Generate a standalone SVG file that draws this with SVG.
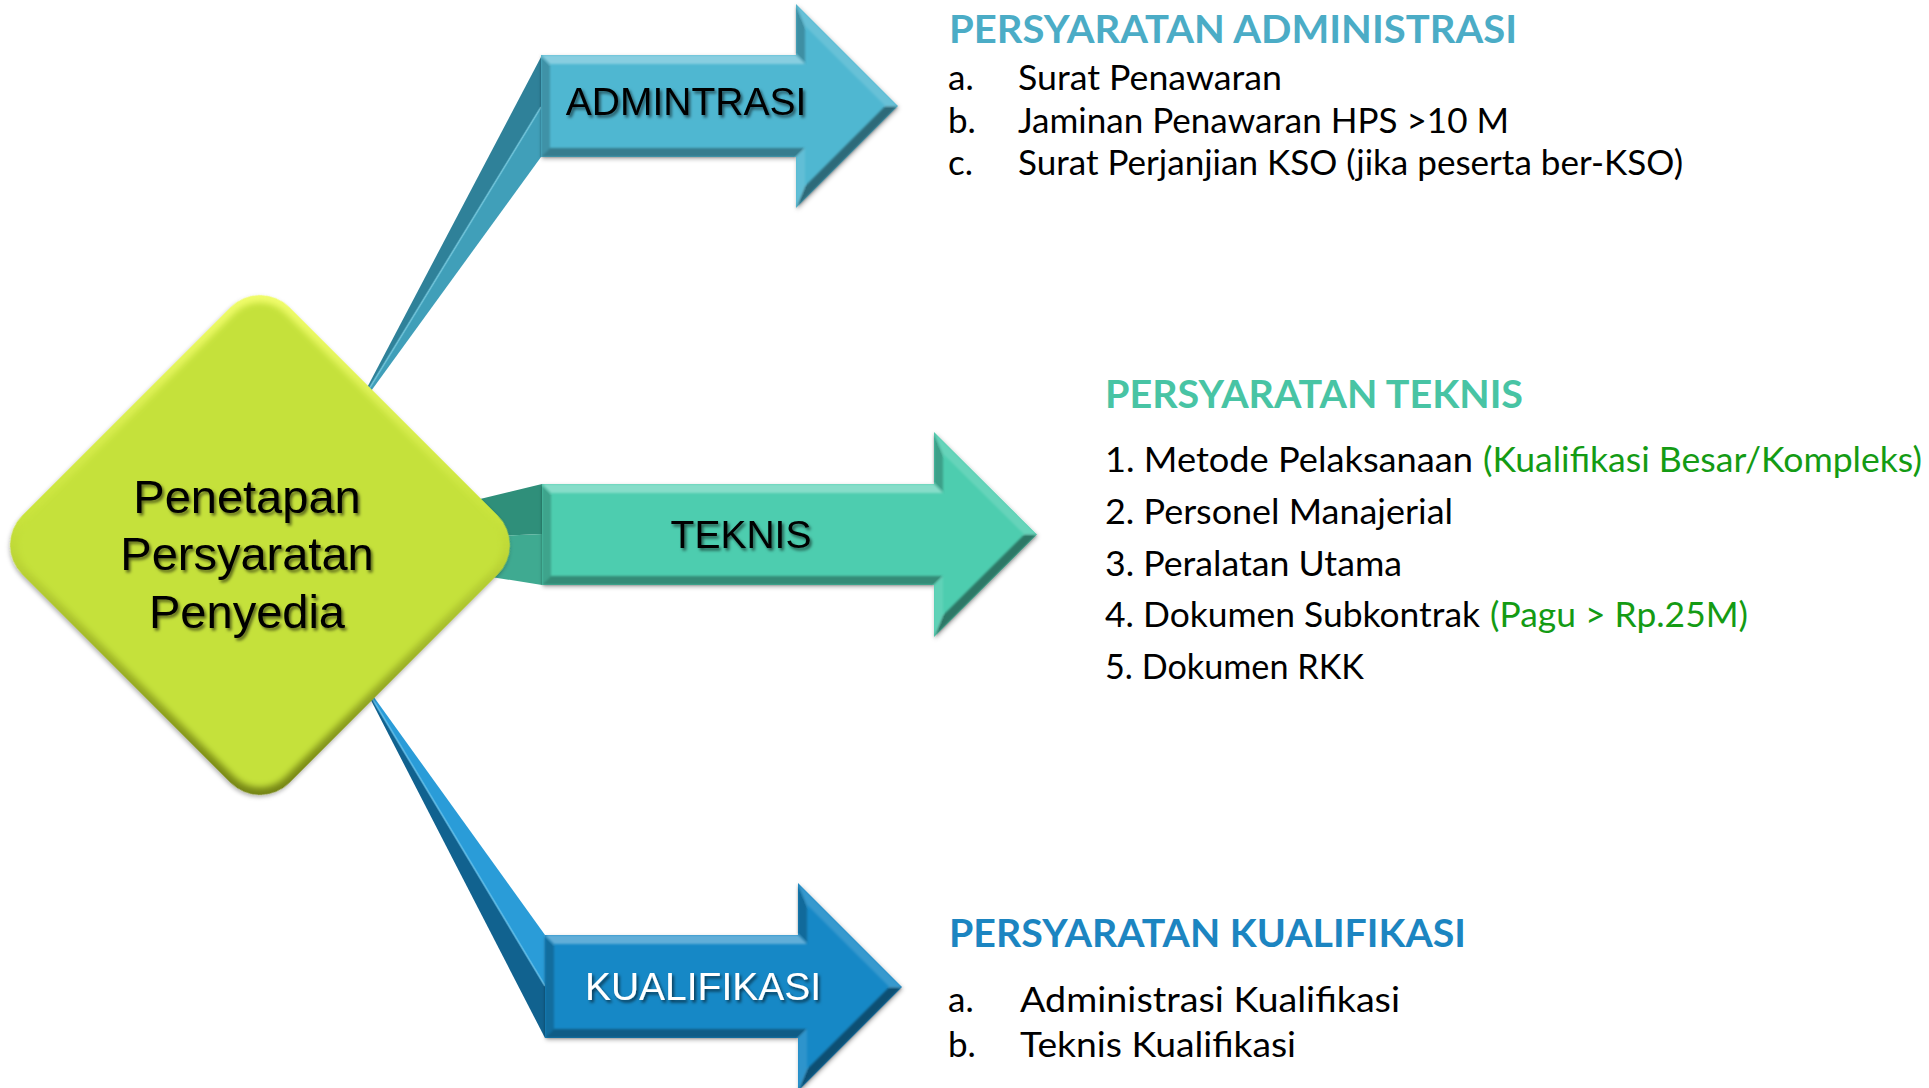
<svg xmlns="http://www.w3.org/2000/svg" width="1929" height="1088" viewBox="0 0 1929 1088">
<style>
.lbl{font-family:"Liberation Sans",Arial,sans-serif;font-size:39px;text-anchor:middle}
.dtx{font-family:"Liberation Sans",Arial,sans-serif;font-size:47px;text-anchor:middle;fill:#000}
.ttl{font-family:Lato,"Open Sans",sans-serif;font-weight:bold;font-size:39px}
.itm{font-family:Lato,"Open Sans",sans-serif;font-size:35px;fill:#000}
.grn{fill:#149B14}
.f-top{fill:#fff;fill-opacity:.32}
.f-htop{fill:#fff;fill-opacity:.14}
.f-btop{fill:#000;fill-opacity:.22}
.f-hbot{fill:#000;fill-opacity:.42}
.f-bbot{fill:#fff;fill-opacity:.1}
.f-bot{fill:#000;fill-opacity:.32}
.f-left{fill:#000;fill-opacity:.2}
</style>
<defs>
<filter id="tshadow" x="-10%" y="-20%" width="120%" height="150%">
<feDropShadow dx="2" dy="2.5" stdDeviation="1.5" flood-color="#000" flood-opacity=".55"/>
</filter>
<filter id="ashadow" x="-10%" y="-10%" width="120%" height="130%">
<feDropShadow dx="1" dy="2" stdDeviation="2" flood-color="#000" flood-opacity=".3"/>
</filter>
<filter id="soft"><feGaussianBlur stdDeviation="1"/></filter>
<filter id="soft3"><feGaussianBlur stdDeviation="3"/></filter>
<linearGradient id="dEdge" x1="0" y1="0" x2="1" y2="1">
<stop offset="0" stop-color="#F4FF70"/>
<stop offset=".45" stop-color="#C8E33C"/>
<stop offset="1" stop-color="#6F7E10"/>
</linearGradient>
</defs>

<g id="connectors">
<g id="conn-admin">
<polygon points="541,57 350,420 541,107" fill="#2F8199"/>
<polygon points="541,107 350,420 541,157" fill="#409FB9"/>
<line x1="541" y1="107" x2="350" y2="420" stroke="#7FD6EC" stroke-width="2" opacity=".5"/>
</g>
<g id="conn-teknis">
<polygon points="542,484 290,545 542,534" fill="#2F8F7A"/>
<polygon points="542,534 290,545 542,585" fill="#3FAA91"/>
</g>
<g id="conn-kualifikasi">
<polygon points="545,935 358,675 545,986" fill="#2A9CD8"/>
<polygon points="545,986 358,675 545,1038" fill="#11628F"/>
<line x1="545" y1="986" x2="358" y2="675" stroke="#6CCBF5" stroke-width="2" opacity=".6"/>
</g>
</g>

<g id="node-admin">
<g filter="url(#ashadow)">
<polygon points="541,55 796,55 796,4 898,106 796,208 796,157 541,157" fill="#50B7D1"/>
</g>
<g filter="url(#soft)">
<polygon class="f-top" points="541,55 796,55 805,64 550,64"/>
<polygon class="f-btop" points="796,55 796,4 805,25.7 805,64"/>
<polygon class="f-htop" points="796,4 898,106 885.3,106 805,25.7"/>
<polygon class="f-hbot" points="898,106 796,208 805,186.3 885.3,106"/>
<polygon class="f-bbot" points="796,208 796,157 805,148 805,186.3"/>
<polygon class="f-bot" points="796,157 541,157 550,148 805,148"/>
<polygon class="f-left" points="541,157 541,55 550,64 550,148"/>
</g>
<text class="lbl" x="686" y="115" fill="#000" filter="url(#tshadow)">ADMINTRASI</text>
</g>

<g id="node-teknis">
<g filter="url(#ashadow)">
<polygon points="542,484 934,484 934,432 1037,534.5 934,637 934,585 542,585" fill="#4ECDAF"/>
</g>
<g filter="url(#soft)">
<polygon class="f-top" points="542,484 934,484 943,493 551,493"/>
<polygon class="f-btop" points="934,484 934,432 943,453.7 943,493"/>
<polygon class="f-htop" points="934,432 1037,534.5 1024.3,534.5 943,453.7"/>
<polygon class="f-hbot" points="1037,534.5 934,637 943,615.3 1024.3,534.5"/>
<polygon class="f-bbot" points="934,637 934,585 943,576 943,615.3"/>
<polygon class="f-bot" points="934,585 542,585 551,576 943,576"/>
<polygon class="f-left" points="542,585 542,484 551,493 551,576"/>
</g>
<text class="lbl" x="741" y="548" fill="#000" filter="url(#tshadow)">TEKNIS</text>
</g>

<g id="node-kualifikasi">
<g filter="url(#ashadow)">
<polygon points="545,935 798,935 798,883 902,987 798,1091 798,1038 545,1038" fill="#1688C6"/>
</g>
<g filter="url(#soft)">
<polygon class="f-top" points="545,935 798,935 807,944 554,944"/>
<polygon class="f-btop" points="798,935 798,883 807,904.7 807,944"/>
<polygon class="f-htop" points="798,883 902,987 889.3,987 807,904.7"/>
<polygon class="f-hbot" points="902,987 798,1091 807,1069.3 889.3,987"/>
<polygon class="f-bbot" points="798,1091 798,1038 807,1029 807,1069.3"/>
<polygon class="f-bot" points="798,1038 545,1038 554,1029 807,1029"/>
<polygon class="f-left" points="545,1038 545,935 554,944 554,1029"/>
</g>
<text class="lbl" x="703" y="1000" fill="#fff" filter="url(#tshadow)">KUALIFIKASI</text>
</g>

<g id="node-center">
<g transform="translate(260,545) rotate(45)">
<rect x="-189" y="-189" width="378" height="378" rx="42" fill="url(#dEdge)" filter="url(#ashadow)"/>
<rect x="-182" y="-182" width="364" height="364" rx="36" fill="#C5E13B" filter="url(#soft3)"/>
</g>
<g filter="url(#tshadow)">
<text class="dtx" x="247" y="513">Penetapan</text>
<text class="dtx" x="247" y="570">Persyaratan</text>
<text class="dtx" x="247" y="628">Penyedia</text>
</g>
</g>

<g id="text-admin">
<text class="ttl" x="949" y="43" fill="#4BACC6" textLength="568" lengthAdjust="spacingAndGlyphs">PERSYARATAN ADMINISTRASI</text>
<text class="itm" x="948" y="90">a.</text>
<text class="itm" x="1018" y="90" textLength="264" lengthAdjust="spacingAndGlyphs">Surat Penawaran</text>
<text class="itm" x="948" y="133">b.</text>
<text class="itm" x="1018" y="133" textLength="491" lengthAdjust="spacingAndGlyphs">Jaminan Penawaran HPS &gt;10 M</text>
<text class="itm" x="948" y="175">c.</text>
<text class="itm" x="1018" y="175" textLength="665" lengthAdjust="spacingAndGlyphs">Surat Perjanjian KSO (jika peserta ber-KSO)</text>
</g>

<g id="text-teknis">
<text class="ttl" x="1105" y="408" fill="#48C4A4" textLength="418" lengthAdjust="spacingAndGlyphs">PERSYARATAN TEKNIS</text>
<text class="itm" x="1105" y="472" textLength="368" lengthAdjust="spacingAndGlyphs">1. Metode Pelaksanaan</text>
<text class="itm grn" x="1483" y="472" textLength="439" lengthAdjust="spacingAndGlyphs">(Kualifikasi Besar/Kompleks)</text>
<text class="itm" x="1105" y="524" textLength="348" lengthAdjust="spacingAndGlyphs">2. Personel Manajerial</text>
<text class="itm" x="1105" y="576" textLength="297" lengthAdjust="spacingAndGlyphs">3. Peralatan Utama</text>
<text class="itm" x="1105" y="627" textLength="375" lengthAdjust="spacingAndGlyphs">4. Dokumen Subkontrak</text>
<text class="itm grn" x="1490" y="627" textLength="258" lengthAdjust="spacingAndGlyphs">(Pagu &gt; Rp.25M)</text>
<text class="itm" x="1105" y="679" textLength="259" lengthAdjust="spacingAndGlyphs">5. Dokumen RKK</text>
</g>

<g id="text-kualifikasi">
<text class="ttl" x="949" y="947" fill="#1C85C1" textLength="517" lengthAdjust="spacingAndGlyphs">PERSYARATAN KUALIFIKASI</text>
<text class="itm" x="948" y="1012">a.</text>
<text class="itm" x="1020" y="1012" textLength="380" lengthAdjust="spacingAndGlyphs">Administrasi Kualifikasi</text>
<text class="itm" x="948" y="1057">b.</text>
<text class="itm" x="1020" y="1057" textLength="276" lengthAdjust="spacingAndGlyphs">Teknis Kualifikasi</text>
</g>
</svg>
